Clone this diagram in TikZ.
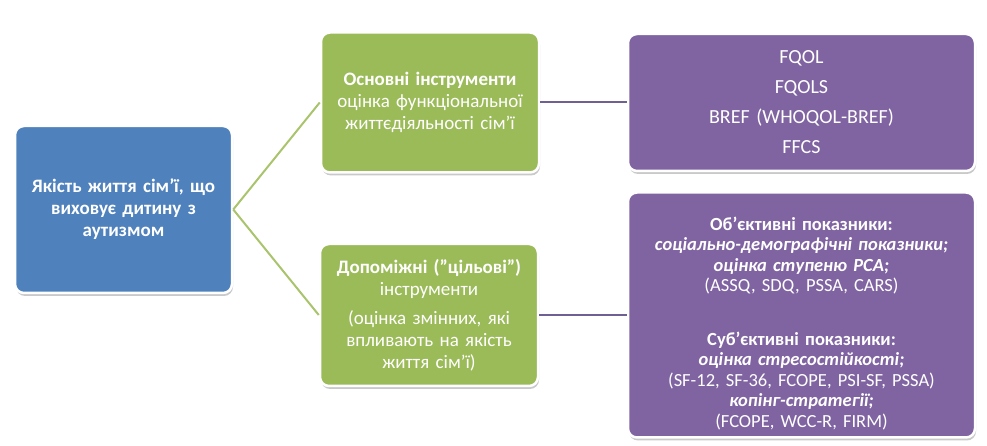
\documentclass[tikz,border=0pt]{standalone}
\usepackage{fontspec}
\setmainfont{Carlito}
\usetikzlibrary{shadows}

\definecolor{boxblue}{HTML}{4F81BD}
\definecolor{boxgreen}{HTML}{9BBB59}
\definecolor{boxpurple}{HTML}{8064A2}
\definecolor{linegreen}{HTML}{A9C46C}
\definecolor{linepurple}{HTML}{6F5F93}

\tikzset{
  box/.style={draw=white, line width=2.5pt, rounded corners=9pt, text=white,
    align=center, inner sep=4pt,
    drop shadow={shadow xshift=1pt, shadow yshift=-3pt, opacity=0.3, fill=black!70}},
  rootbox/.style={box, fill=boxblue, minimum width=217pt, minimum height=167pt,
    text width=205pt, font=\fontsize{19}{22}\selectfont\bfseries},
  toolbox/.style={box, fill=boxgreen, minimum width=218pt, minimum height=140pt,
    text width=208pt, font=\fontsize{19}{22}\selectfont},
  listbox/.style={box, fill=boxpurple, minimum width=347pt, text width=337pt},
  branch/.style={draw=linegreen, line width=2pt},
  link/.style={draw=linepurple, line width=2pt}
}

\begin{document}
\begin{tikzpicture}[x=1pt, y=1pt]
\useasboundingbox (0, 0) rectangle (987, 446);

% Головний блок
\node[rootbox] (quality) at (123.5, 236.5)
  {Якість життя сім'ї, що\\ виховує дитину з\\ аутизмом};

% Основні інструменти
\node[toolbox] (main) at (430, 343.5)
  {\textbf{Основні інструменти}\\ оцінка функціональної\\ життєдіяльності сім'ї};

% Допоміжні інструменти
\node[toolbox, minimum height=142pt] (aux) at (429, 131)
  {\textbf{Допоміжні ("цільові")}\\ інструменти\\[7pt]
   (оцінка змінних, які\\ впливають на якість\\ життя сім'ї)};

% Перелік основних методик
\node[listbox, minimum height=137pt, font=\fontsize{20}{30}\selectfont] (mainlist) at (801.5, 343.5)
  {FQOL\\ FQOLS\\ BREF (WHOQOL-BREF)\\ FFCS};

% Перелік допоміжних методик
\node[listbox, minimum height=245pt, inner ysep=0pt, font=\fontsize{18.5}{20.5}\selectfont] (auxlist) at (801.5, 131)
  {\rule{0pt}{30pt}\textbf{Об'єктивні показники:}\\
   \textbf{\textit{соціально-демографічні показники;}}\\
   \textbf{\textit{оцінка ступеню РСА;}}\\
   (ASSQ, SDQ, PSSA, CARS)\\[33pt]
   \textbf{Суб'єктивні показники:}\\
   \textbf{\textit{оцінка стресостійкості;}}\\
   (SF-12, SF-36, FCOPE, PSI-SF, PSSA)\\
   \textbf{\textit{копінг-стратегії;}}\\
   (FCOPE, WCC-R, FIRM)};

% Зв'язки
\draw[branch] (quality.east) -- (main.west);
\draw[branch] (quality.east) -- (aux.west);
\draw[link] (main.east) -- (mainlist.west);
\draw[link] (aux.east) -- (auxlist.west);

\end{tikzpicture}
\end{document}
